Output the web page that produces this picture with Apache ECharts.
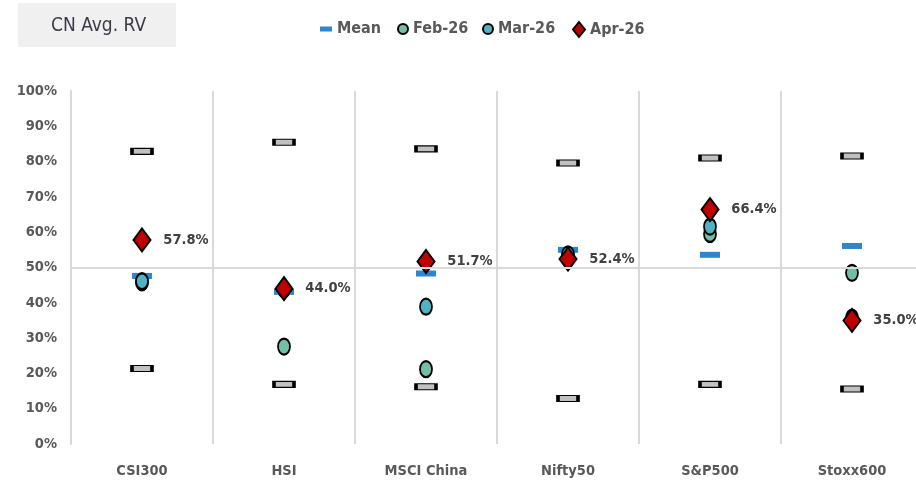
<!DOCTYPE html>
<html>
<head>
<meta charset="utf-8">
<script src="https://cdn.jsdelivr.net/npm/echarts@6/dist/echarts.min.js"></script>
<style>
  html, body { margin: 0; padding: 0; background: #fff; }
  #chart { width: 916px; height: 488px; }
</style>
</head>
<body>
<div id="chart"></div>
<script>
  var categories = ['CSI300', 'HSI', 'MSCI China', 'Nifty50', 'S&P500', 'Stoxx600'];
  var maxVals  = [82.9, 85.5, 83.6, 79.6, 81.0, 81.6];
  var minVals  = [21.4, 16.9, 16.2, 12.9, 16.9, 15.6];
  var meanVals = [47.6, 43.1, 48.3, 55.0, 53.6, 56.1];
  var feb26    = [45.8, 27.6, 21.2, 53.3, 59.5, 48.5];
  var mar26    = [46.1, 43.8, 38.9, 53.7, 61.6, 35.8];
  var apr26    = [57.8, 44.0, 51.7, 52.4, 66.4, 35.0];
  var yTicks   = [0, 100, 10]; // min, max, step

  var FONT = '"DejaVu Sans Condensed", "Liberation Sans Narrow", sans-serif';
  var GREY = '#595959';

  var myChart = echarts.init(document.getElementById('chart'));

  function legendItem(name, left, w, h, icon) {
    return {
      left: left, top: 21, padding: 0,
      itemWidth: w, itemHeight: h, itemGap: 0,
      selectedMode: false,
      textStyle: { fontFamily: FONT, fontSize: 16, fontWeight: 'bold', color: GREY },
      data: [{ name: name, icon: icon }]
    };
  }

  myChart.setOption({
    animation: false,
    graphic: [
      { type: 'rect', left: 18, top: 3, shape: { width: 158, height: 44 }, style: { fill: '#f0f0f0' } },
      { type: 'text', left: 51, top: 17, style: { text: 'CN Avg. RV', font: '19px ' + FONT, fill: '#3a3a48' } }
    ],
    legend: [
      legendItem('Mean', 320, 12, 5, 'rect'),
      legendItem('Feb-26', 397, 10, 13, 'circle'),
      legendItem('Mar-26', 482, 10, 13, 'circle'),
      legendItem('Apr-26', 572, 12, 15, 'diamond')
    ],
    grid: { left: 71, top: 91, width: 852, bottom: 44, outerBoundsMode: 'none', containLabel: false },
    xAxis: {
      type: 'category',
      data: categories,
      boundaryGap: true,
      axisLine: { show: false },
      axisTick: { show: false },
      axisLabel: { fontFamily: FONT, fontSize: 14.5, fontWeight: 'bold', color: GREY, margin: 20 },
      splitLine: { show: true, interval: 0, lineStyle: { color: '#d9d9d9', width: 2 } }
    },
    yAxis: {
      type: 'value',
      min: yTicks[0], max: yTicks[1], interval: yTicks[2],
      axisLine: { show: true, lineStyle: { color: '#d9d9d9', width: 2 } },
      axisTick: { show: false },
      splitLine: { show: false },
      axisLabel: {
        fontFamily: FONT, fontSize: 14.5, fontWeight: 'bold', color: GREY, margin: 14,
        formatter: function (v) { return v + '%'; }
      }
    },
    series: [
      {
        name: 'Max', type: 'scatter', data: maxVals,
        symbol: 'rect', symbolSize: [20, 6],
        itemStyle: { color: '#c0c0c0', borderColor: '#000', borderWidth: 2, opacity: 1 },
        markLine: {
          silent: true, symbol: 'none', label: { show: false },
          lineStyle: { color: '#d9d9d9', width: 2, type: 'solid' },
          data: [{ yAxis: 50 }]
        }
      },
      {
        name: 'Min', type: 'scatter', data: minVals,
        symbol: 'rect', symbolSize: [20, 6],
        itemStyle: { color: '#c0c0c0', borderColor: '#000', borderWidth: 2, opacity: 1 }
      },
      {
        name: 'Mean', type: 'scatter', data: meanVals,
        symbol: 'rect', symbolSize: [20, 6],
        itemStyle: { color: '#2e86d0', opacity: 1 }
      },
      {
        name: 'Feb-26', type: 'scatter', data: feb26,
        symbol: 'circle', symbolSize: [12, 16],
        itemStyle: { color: '#72bfa6', borderColor: '#000', borderWidth: 2, opacity: 1 }
      },
      {
        name: 'Mar-26', type: 'scatter', data: mar26,
        symbol: 'circle', symbolSize: [12, 16],
        itemStyle: { color: '#4fb3c4', borderColor: '#000', borderWidth: 2, opacity: 1 }
      },
      {
        name: 'Apr-26', type: 'scatter', data: apr26,
        symbol: 'diamond', symbolSize: [17, 23],
        itemStyle: { color: '#c00000', borderColor: '#000', borderWidth: 2, opacity: 1 },
        label: {
          show: true, position: 'right', distance: 12,
          fontFamily: FONT, fontSize: 14.5, fontWeight: 'bold', color: '#404040',
          formatter: function (p) { return p.value.toFixed(1) + '%'; }
        }
      }
    ]
  });
</script>
</body>
</html>
